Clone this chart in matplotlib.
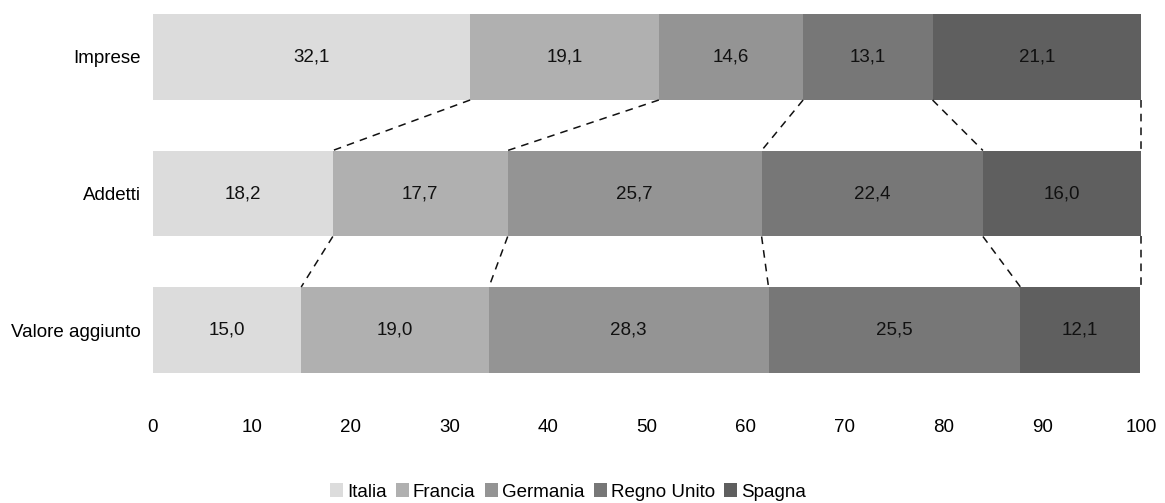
import matplotlib
matplotlib.use("Agg")
import matplotlib.pyplot as plt
from matplotlib.patches import Patch
import numpy as np

plt.rcParams['font.family'] = ['Liberation Sans', 'DejaVu Sans']

categories = ["Imprese", "Addetti", "Valore aggiunto"]
countries = ["Italia", "Francia", "Germania", "Regno Unito", "Spagna"]
italia = [32.1, 18.2, 15.0]
francia = [19.1, 17.7, 19.0]
germania = [14.6, 25.7, 28.3]
regno_unito = [13.1, 22.4, 25.5]
spagna = [21.1, 16.0, 12.1]
xticks = [0, 10, 20, 30, 40, 50, 60, 70, 80, 90, 100]

colors = ["#dcdcdc", "#b0b0b0", "#949494", "#777777", "#5f5f5f"]
series = [italia, francia, germania, regno_unito, spagna]

FS = 13.5
W, H = 1165, 503
fig = plt.figure(figsize=(W / 100, H / 100), dpi=100)
left, right, top, bottom = 153, 1141, 14, 373
ax = fig.add_axes([left / W, 1 - bottom / H, (right - left) / W, (bottom - top) / H])

bar_h = 0.63
ypos = np.arange(len(categories))
cum = np.zeros(len(categories))
bounds = []
for vals, col in zip(series, colors):
    vals = np.array(vals)
    ax.barh(ypos, vals, left=cum, height=bar_h, color=col, edgecolor="none")
    for y, l, v in zip(ypos, cum, vals):
        ax.text(l + v / 2, y, f"{v:.1f}".replace(".", ","), ha="center", va="center",
                fontsize=FS, color="#111111")
    cum = cum + vals
    bounds.append(cum.copy())

# dashed connectors between segment boundaries of consecutive bars
for b in bounds:
    for i in range(len(categories) - 1):
        x0 = min(b[i], 100)
        x1 = min(b[i + 1], 100)
        if abs(x0 - x1) < 0.2:
            x0 = x1 = max(x0, x1)
        ax.plot([x0, x1], [i + bar_h / 2, i + 1 - bar_h / 2], color="#111111",
                linestyle=(0, (5, 4)), linewidth=1.1, clip_on=False)

ax.set_xlim(0, 100)
ax.set_ylim(len(categories) - 1 + bar_h / 2, -bar_h / 2)
ax.set_yticks(ypos)
ax.set_yticklabels(categories, fontsize=FS)
ax.set_xticks(xticks)
ax.set_xticklabels([str(t) for t in xticks], fontsize=FS)
ax.tick_params(axis="y", length=0, pad=9)
ax.tick_params(axis="x", length=0, pad=33)
for s in ax.spines.values():
    s.set_visible(False)

handles = [Patch(facecolor=c, edgecolor="none") for c in colors]
fig.legend(handles, countries, loc="center", bbox_to_anchor=(568 / W, 1 - 492 / H),
           ncol=5, frameon=False, fontsize=FS, handlelength=0.7, handleheight=0.7,
           handletextpad=0.2, columnspacing=0.5)

fig.savefig("out.png", dpi=100)
